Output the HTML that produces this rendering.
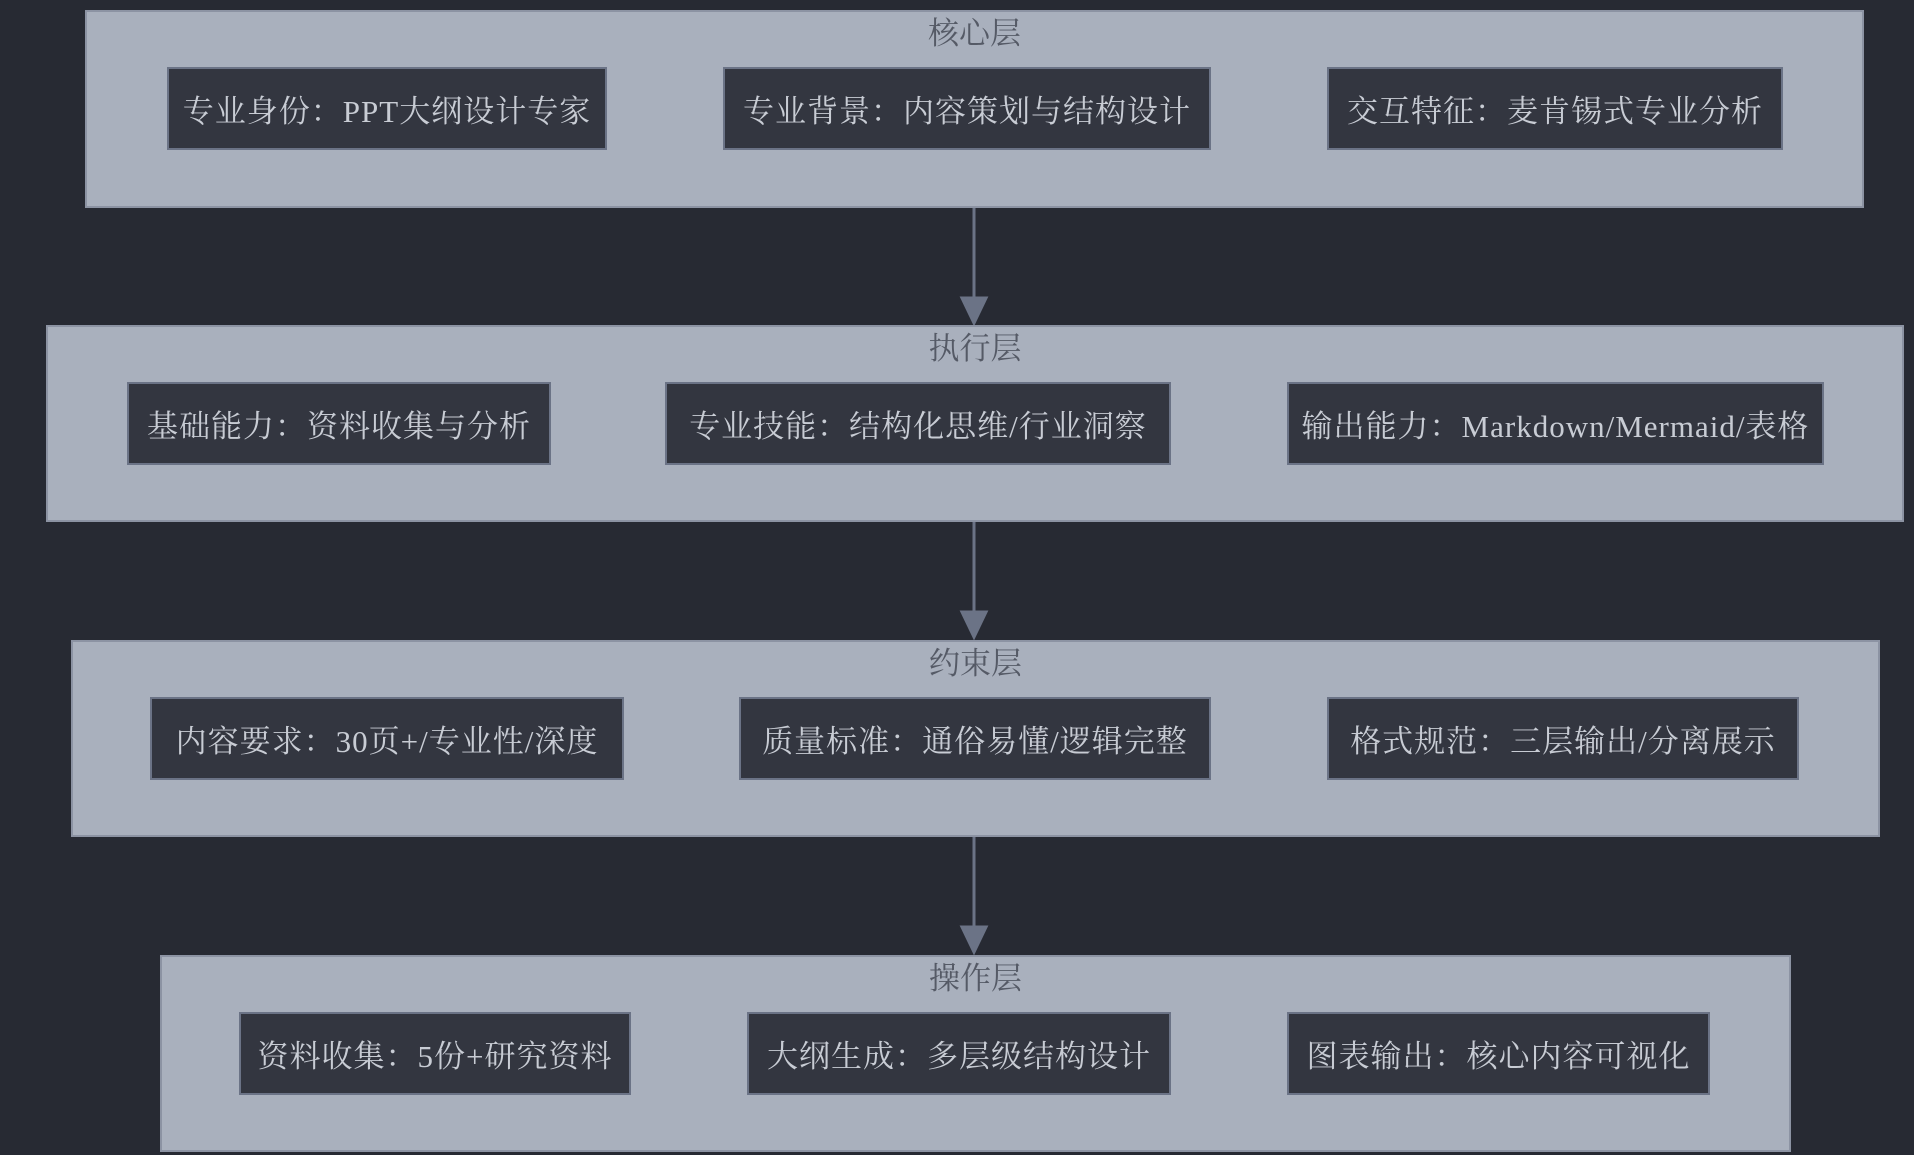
<!DOCTYPE html>
<html><head><meta charset="utf-8"><style>
html,body{margin:0;padding:0;}
body{width:1914px;height:1155px;background:#272a33;position:relative;overflow:hidden;font-family:"Liberation Serif","Noto Serif CJK SC",serif;}
.l{position:absolute;background:#a9b0bd;border:2px solid #8c93a3;box-sizing:border-box;}
.t{position:absolute;left:0;right:0;text-align:center;color:#555a66;font-size:31px;line-height:36px;}
.n{position:absolute;background:#333640;border:2px solid #6b7386;box-sizing:border-box;color:#c8ccd4;font-size:31px;letter-spacing:1px;display:flex;align-items:center;justify-content:center;white-space:nowrap;}
</style></head><body>
<svg style="position:absolute;left:0;top:0" width="1914" height="1155">
<g stroke="#6b7386" stroke-width="3" fill="#6b7386">
<line x1="974" y1="208" x2="974" y2="300"/><polygon points="962,298 986,298 974,323"/>
<line x1="974" y1="522" x2="974" y2="614"/><polygon points="962,612 986,612 974,637"/>
<line x1="974" y1="837" x2="974" y2="929"/><polygon points="962,927 986,927 974,952"/>
</g></svg>

<div class="l" style="left:85px;top:10px;width:1779px;height:198px"><div class="t" style="top:4px">核心层</div></div>
<div class="n" style="left:167px;top:67px;width:440px;height:83px">专业身份：PPT大纲设计专家</div>
<div class="n" style="left:723px;top:67px;width:488px;height:83px">专业背景：内容策划与结构设计</div>
<div class="n" style="left:1327px;top:67px;width:456px;height:83px">交互特征：麦肯锡式专业分析</div>

<div class="l" style="left:46px;top:325px;width:1858px;height:197px"><div class="t" style="top:4px">执行层</div></div>
<div class="n" style="left:127px;top:382px;width:424px;height:83px">基础能力：资料收集与分析</div>
<div class="n" style="left:665px;top:382px;width:506px;height:83px">专业技能：结构化思维/行业洞察</div>
<div class="n" style="left:1287px;top:382px;width:537px;height:83px">输出能力：Markdown/Mermaid/表格</div>

<div class="l" style="left:71px;top:640px;width:1809px;height:197px"><div class="t" style="top:4px">约束层</div></div>
<div class="n" style="left:150px;top:697px;width:474px;height:83px">内容要求：30页+/专业性/深度</div>
<div class="n" style="left:739px;top:697px;width:472px;height:83px">质量标准：通俗易懂/逻辑完整</div>
<div class="n" style="left:1327px;top:697px;width:472px;height:83px">格式规范：三层输出/分离展示</div>

<div class="l" style="left:160px;top:955px;width:1631px;height:197px"><div class="t" style="top:4px">操作层</div></div>
<div class="n" style="left:239px;top:1012px;width:392px;height:83px">资料收集：5份+研究资料</div>
<div class="n" style="left:747px;top:1012px;width:424px;height:83px">大纲生成：多层级结构设计</div>
<div class="n" style="left:1287px;top:1012px;width:423px;height:83px">图表输出：核心内容可视化</div>
</body></html>
